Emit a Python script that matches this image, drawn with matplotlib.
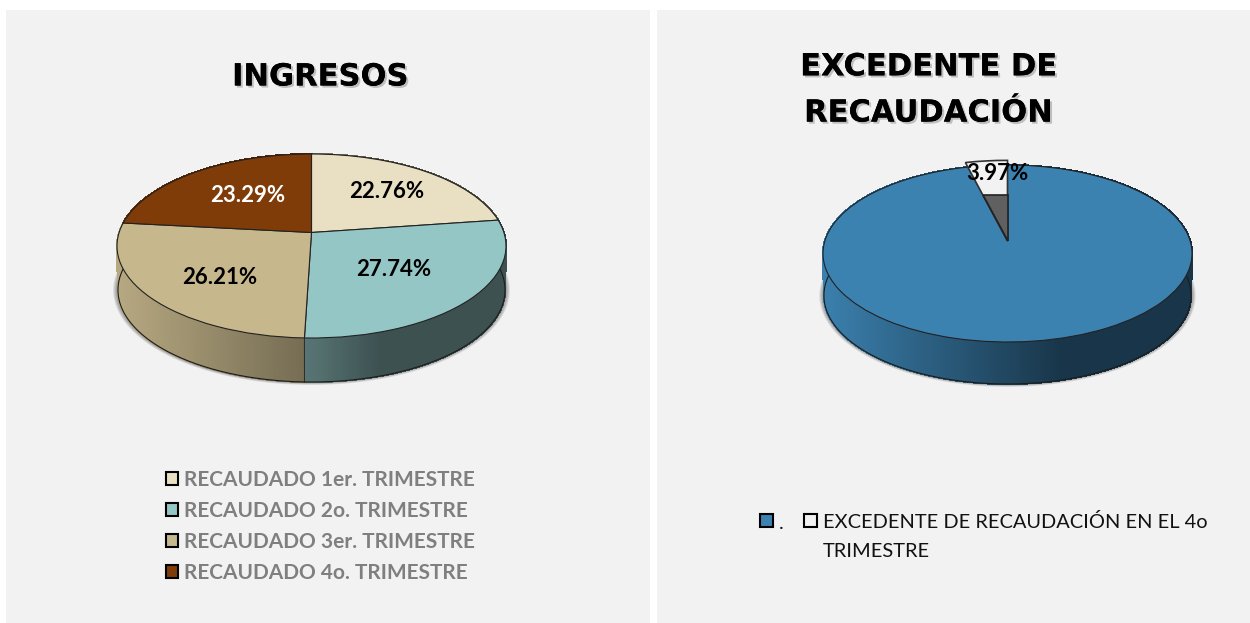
import numpy as np
import matplotlib
matplotlib.use("Agg")
import matplotlib.pyplot as plt
import matplotlib.patheffects as pe
from matplotlib.collections import PolyCollection
from matplotlib.patches import Rectangle
from matplotlib.transforms import Transform

# ---- data ----
ingresos_labels = ["RECAUDADO 1er. TRIMESTRE", "RECAUDADO 2o. TRIMESTRE",
                   "RECAUDADO 3er. TRIMESTRE", "RECAUDADO 4o. TRIMESTRE"]
ingresos_values = [22.76, 27.74, 26.21, 23.29]
excedente_labels = [".", "EXCEDENTE DE RECAUDACIÓN EN EL 4o\nTRIMESTRE"]
excedente_values = [96.03, 3.97]

ingresos_colors = ["#E9E0C3", "#94C6C5", "#C6B78C", "#7F3B08"]
excedente_colors = ["#3C82B1", "#F2F2F2"]
title_left = "INGRESOS"
title_right = "EXCEDENTE DE\nRECAUDACIÓN"

plt.rcParams["font.family"] = ["Lato", "DejaVu Sans"]
W, H = 1250, 623
fig = plt.figure(figsize=(W / 100, H / 100), dpi=100, facecolor="white")
ax = fig.add_axes([0, 0, 1, 1])


class Persp(Transform):
    """Tilted-disc projection of the unit circle into pixel coordinates."""
    input_dims = output_dims = 2
    is_separable = False
    has_inverse = False

    def __init__(self, cx, cy, X, Y, k):
        super().__init__()
        self.p = (cx, cy, X, Y, k)

    def transform_non_affine(self, values):
        cx, cy, X, Y, k = self.p
        values = np.asarray(values, float)
        d = 1 + k * values[:, 1]
        return np.column_stack((cx + X * values[:, 0] / d, cy - Y * values[:, 1] / d))


def shade(xn, stops):
    return np.interp(xn, stops[0], stops[1])


def pie3d(values, colors, cx, cy, halfw, top, bottom, depth, stops, edge=0.8):
    up, dn = cy - top, bottom - cy
    k = (dn - up) / (dn + up)
    Y = up * (1 + k)
    X = halfw * np.sqrt(1 - k * k)
    tr = Persp(cx, cy, X, Y, k)
    lower = Persp(cx, cy + depth, X * 0.995, Y, k)
    # soft shadow under the body
    t = np.linspace(0, 2 * np.pi, 360)
    for grow in np.arange(1, 6):
        pts = lower.transform(np.column_stack((np.cos(t), np.sin(t))))
        mx, my = pts.mean(axis=0)
        ax.fill(mx + (pts[:, 0] - mx) * (1 + grow * 0.005),
                my + (pts[:, 1] - my) * (1 + grow * 0.006),
                color="black", alpha=0.09, lw=0, zorder=0.4)
    # side wall, slice by slice
    vals = np.asarray(values, float)
    ends = np.cumsum(vals) / vals.sum() * 360
    starts = np.r_[0, ends[:-1]]
    for s, e, col in zip(starts, ends, colors):
        a = np.radians(np.r_[np.arange(s, e, 0.5), e])
        uv = np.column_stack((np.sin(a), np.cos(a)))
        p1, p2 = tr.transform(uv), lower.transform(uv)
        quads = [[p1[i], p1[i + 1], p2[i + 1], p2[i]] for i in range(len(a) - 1)]
        base = np.array(matplotlib.colors.to_rgb(col))
        xn = (p1[:-1, 0] - cx) / halfw
        facs = shade(xn, stops)
        cols = np.clip(base[None, :] * facs[:, None], 0, 1)
        ax.add_collection(PolyCollection(quads, facecolors=cols, edgecolors=cols,
                                         linewidths=0.8, antialiaseds=False, zorder=0.5))
        ax.plot(p2[:, 0], p2[:, 1], color="#1c1c1c", lw=edge, zorder=0.6)
        if uv[0, 1] < -k:
            ax.plot([p1[0, 0], p2[0, 0]], [p1[0, 1], p2[0, 1]], color="#2a2a2a", lw=0.7, zorder=0.6)
    # top face
    wedges, _ = ax.pie(values, colors=colors, startangle=90, counterclock=False,
                       wedgeprops=dict(edgecolor="#222222", linewidth=edge))
    for w in wedges:
        w.set_transform(tr + ax.transData)
    return wedges, tr


# panels
ax.add_patch(Rectangle((6, 10), 644, 613, fc="#F2F2F2", ec="none", zorder=0.1))
ax.add_patch(Rectangle((657, 10), 593, 613, fc="#F2F2F2", ec="none", zorder=0.1))

stops1 = ([-1, 0, 0.35, 1], [0.92, 0.58, 0.41, 0.41])
stops2 = ([-1, 0.3, 1], [0.98, 0.41, 0.41])

w1, tr1 = pie3d(ingresos_values, ingresos_colors, 311.5, 232.5, 194.5, 154, 338, 44, stops1)
w2, tr2 = pie3d(excedente_values, excedente_colors, 1007.5, 241, 184.5, 165, 342, 42, stops2)

# pulled-out small slice of the right pie
w2[1].set_radius(1.07)
w2[1].set_zorder(2)
w2[1].set_edgecolor("#333333")
w2[1].set_linewidth(1.2)
frac = np.radians(excedente_values[1] / sum(excedente_values) * 360)
notch_v = 0.5735
ax.fill([0, 0, -notch_v * np.tan(frac)], [0, notch_v, notch_v], fc="#606060",
        ec="#222222", lw=1.2, zorder=2.1, transform=tr2 + ax.transData)

# percentage labels
pos1 = [(387, 192), (394, 270), (220, 277), (248, 196)]
col1 = ["black", "black", "black", "white"]
for v, (x, y), c in zip(ingresos_values, pos1, col1):
    ax.text(x, y, f"{v:.2f}%", ha="center", va="center", fontsize=16,
            fontweight="bold", color=c, zorder=5)
ax.text(997, 173, f"{excedente_values[1]:.2f}%", ha="center", va="center",
        fontsize=16, fontweight="bold", color="black", zorder=5)

# titles
shadow = [pe.withSimplePatchShadow(offset=(1.5, -1.5), shadow_rgbFace="#808080", alpha=0.45), pe.Normal()]
ax.text(320, 77, title_left, ha="center", va="center", fontsize=22, fontweight="bold",
        family="DejaVu Sans", color="black", path_effects=shadow, zorder=5)
ax.text(928, 90, title_right, ha="center", va="center", fontsize=22, fontweight="bold",
        family="DejaVu Sans", color="black", linespacing=1.75, path_effects=shadow, zorder=5)

ax.set_aspect("auto")
ax.set_xlim(0, W)
ax.set_ylim(H, 0)
ax.axis("off")

# legends
leg1 = ax.legend(w1, ingresos_labels, loc="upper left", bbox_to_anchor=(147, 451),
                 bbox_transform=ax.transData, frameon=False, prop=dict(size=15, weight="bold"),
                 labelcolor="#7F7F7F", labelspacing=0.53, handlelength=0.6, handleheight=0.6,
                 handletextpad=0.3, borderpad=0.4)
for h in leg1.legend_handles:
    h.set_edgecolor("black")
    h.set_linewidth(1.5)
ax.add_artist(leg1)
leg2 = ax.legend(w2, excedente_labels, loc="upper left", bbox_to_anchor=(742, 495),
                 bbox_transform=ax.transData, frameon=False, prop=dict(size=14.45),
                 labelcolor="#111111", ncol=2, handlelength=0.62, handleheight=0.62,
                 handletextpad=0.3, columnspacing=1.05, borderpad=0.4)
texts2 = leg2.get_texts()
for t in texts2:
    t.set_linespacing(1.85)
texts2[0].set_y(15)
for h in leg2.legend_handles:
    h.set_edgecolor("black")
    h.set_linewidth(1.5)
    h.set_y(h.get_y() + 11.5)

fig.savefig("out.png", dpi=100, facecolor="white")
